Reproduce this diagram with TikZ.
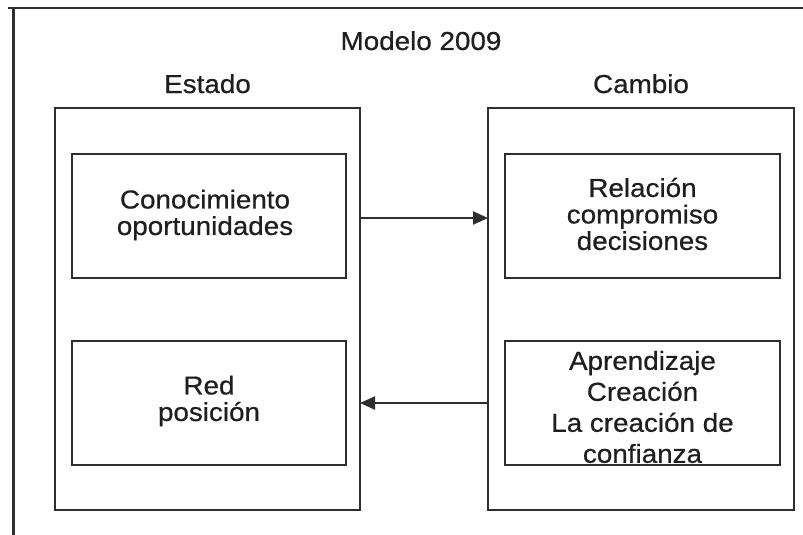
\documentclass[tikz,border=0pt]{standalone}
\usepackage{fontspec}
\setmainfont{Liberation Sans}[FakeStretch=1.07,FakeBold=0.6]
\usetikzlibrary{arrows.meta}
\begin{document}
\begin{tikzpicture}[x=1pt,y=-1pt,
  ln/.style={line width=2.3pt,draw=black!82},
  boxline/.style={ln},
  txt/.style={font=\fontsize{26}{26.5}\selectfont,text=black!88,align=center,inner sep=0pt},
  arr/.style={ln,-{Triangle[length=15pt,width=13pt]}}]
\useasboundingbox (0,0) rectangle (803,535);
% frame lines
\coordinate (ftl) at (8,8);
\coordinate (ftr) at (803,8);
\coordinate (fvt) at (13.5,9);
\coordinate (fvb) at (13.5,535);
\draw[ln] (ftl) -- (ftr);
\draw[ln] (fvt) -- (fvb);
% outer boxes
\draw[boxline] (55,108) rectangle (360,510);
\draw[boxline] (488,108) rectangle (794,510);
\coordinate (Lr1) at (360,218);
\coordinate (Rl1) at (488,218);
\coordinate (Lr2) at (360,403);
\coordinate (Rl2) at (488,403);
% inner boxes
\draw[boxline] (72,154) rectangle (346,278);
\draw[boxline] (505,154) rectangle (780,278);
\draw[boxline] (72,341) rectangle (346,465);
\draw[boxline] (505,341) rectangle (780,465);
% titles
\node[txt,anchor=base] (title) at (421,50) {Modelo 2009};
\node[txt,anchor=base] (estado) at (207.5,93) {Estado};
\node[txt,anchor=base] (cambio) at (641,93) {Cambio};
% texts
\node[txt] (con) at (205,215) {Conocimiento\\oportunidades};
\node[txt] (rel) at (642.5,214) {Relación\\compromiso\\decisiones};
\node[txt] (red) at (209,401) {Red\\posición};
\node[txt,font=\fontsize{26}{31}\selectfont] (apr) at (642.5,407) {Aprendizaje\\Creación\\La creación de\\confianza};
% arrows
\draw[arr] (Lr1) -- (Rl1);
\draw[arr] (Rl2) -- (Lr2);
\end{tikzpicture}
\end{document}
